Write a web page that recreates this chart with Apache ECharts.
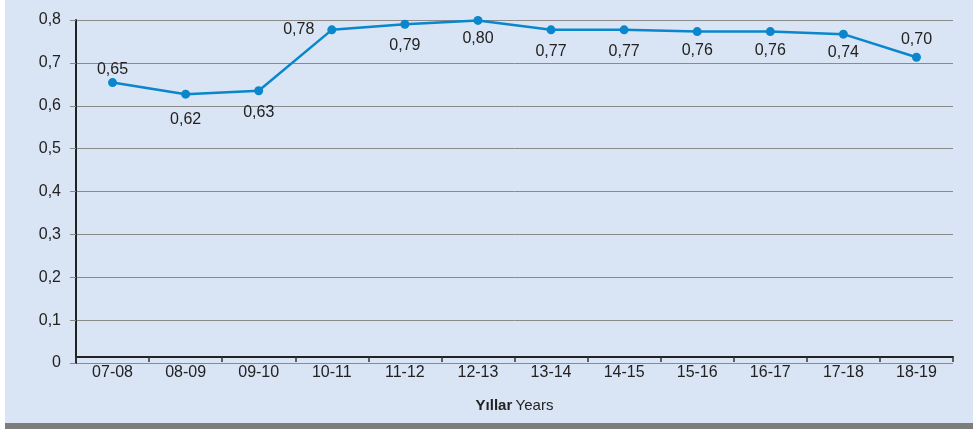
<!DOCTYPE html>
<html>
<head>
<meta charset="utf-8">
<script src="https://cdn.jsdelivr.net/npm/echarts@6/dist/echarts.min.js"></script>
<style>
  html, body { margin: 0; padding: 0; background: #ffffff; }
  #wrap { position: absolute; left: 5px; top: 0; width: 968px; height: 429px; }
  #chart { position: absolute; left: 0; top: 0; width: 968px; height: 423px; background: #d9e4f4; }
  #bar { position: absolute; left: 0; top: 423px; width: 968px; height: 6px; background: #7d7d7d; }
</style>
</head>
<body>
<div id="wrap"><div id="chart"></div><div id="bar"></div></div>
<script>
// Data
const categories = ['07-08','08-09','09-10','10-11','11-12','12-13','13-14','14-15','15-16','16-17','17-18','18-19'];
const values = [0.654, 0.627, 0.635, 0.777, 0.790, 0.799, 0.777, 0.777, 0.773, 0.773, 0.767, 0.713];
const valueLabels = ['0,65','0,62','0,63','0,78','0,79','0,80','0,77','0,77','0,76','0,76','0,74','0,70'];
const yTicks = [0, 0.1, 0.2, 0.3, 0.4, 0.5, 0.6, 0.7, 0.8];

// Label placement (style)
const labelPlace = ['top','bottom','bottom','left','bottom','bottom','bottom','bottom','bottom','bottom','bottom','top'];
const labelDist  = [1, 13, 9, 13, 9, 6, 9, 9, 7, 7, 6, 5];
const labelShift = [0, 0, 0, 0, 0, 0, 0, 0, 0, 0, -4, 0];

const FONT = 'Liberation Sans';
const chart = echarts.init(document.getElementById('chart'), null, { renderer: 'canvas' });

const seriesData = values.map((v, i) => ({
  value: v,
  label: {
    position: labelPlace[i],
    distance: labelDist[i],
    offset: [labelShift[i], 0],
    formatter: () => valueLabels[i]
  }
}));

chart.setOption({
  backgroundColor: 'transparent',
  animation: false,
  grid: { left: 71, right: 20, top: 20, bottom: 60, containLabel: false },
  xAxis: {
    type: 'category',
    data: categories,
    boundaryGap: true,
    offset: -6,
    axisLine: { show: true, lineStyle: { color: '#222', width: 2 } },
    axisTick: { show: true, inside: false, length: 5, lineStyle: { color: '#333', width: 1.5 } },
    axisLabel: { color: '#222', fontFamily: FONT, fontSize: 16, margin: 8 },
    name: '{b|Yıllar} {n|Years}',
    nameLocation: 'middle',
    nameGap: 41,
    nameTextStyle: {
      rich: {
        b: { fontFamily: FONT, fontSize: 15, fontWeight: 'bold', color: '#222' },
        n: { fontFamily: FONT, fontSize: 15, color: '#222' }
      }
    },
    splitLine: { show: false }
  },
  yAxis: {
    type: 'value',
    min: yTicks[0],
    max: yTicks[yTicks.length - 1],
    interval: 0.1,
    axisLine: { show: true, lineStyle: { color: '#222', width: 2 } },
    axisTick: { show: true, length: 6, lineStyle: { color: '#888', width: 1 } },
    axisLabel: {
      color: '#222', fontFamily: FONT, fontSize: 16, margin: 15,
      formatter: v => String(+v.toFixed(1)).replace('.', ',')
    },
    splitLine: { show: true, lineStyle: { color: '#8a8a8a', width: 1 } }
  },
  series: [{
    type: 'line',
    data: seriesData,
    symbol: 'circle',
    symbolSize: 9,
    clip: false,
    itemStyle: { color: '#0a86cc' },
    lineStyle: { color: '#0a86cc', width: 2.5 },
    label: { show: true, color: '#222', fontFamily: FONT, fontSize: 16 },
    labelLayout: { hideOverlap: false },
    z: 5
  }]
});
</script>
</body>
</html>
